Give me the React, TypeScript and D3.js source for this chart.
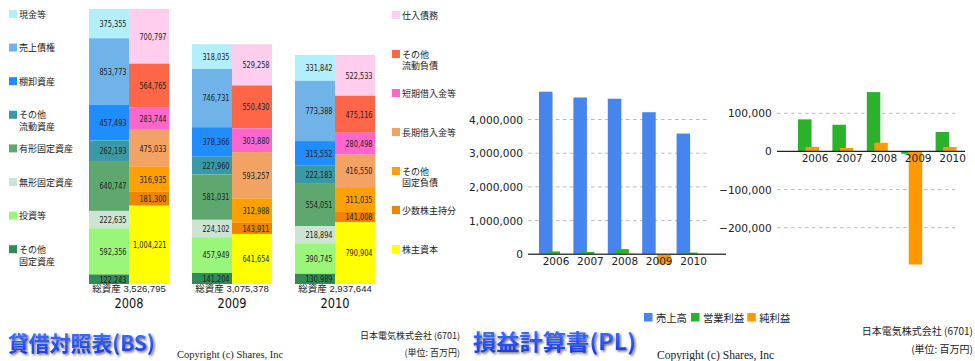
import React from "react";
import * as d3 from "d3";

// ---------- Balance sheet data (values in 百万円) ----------
const bsYears = ["2008", "2009", "2010"];
const totalAssets = [3526795, 3075378, 2937644];

const assetLabels = [["現金等"], ["売上債権"], ["棚卸資産"], ["その他", "流動資産"], ["有形固定資産"], ["無形固定資産"], ["投資等"], ["その他", "固定資産"]];
const assetColors = ["#b3eefb", "#6fb3e9", "#1f8cff", "#3a99a9", "#5ea870", "#cde3d4", "#9af57b", "#2f8c58"];
const assets2008 = [375355, 853773, 457493, 262193, 640747, 222635, 592356, 122243];
const assets2009 = [318035, 746731, 378366, 227960, 581031, 224102, 457949, 141204];
const assets2010 = [331842, 773388, 315552, 222183, 554051, 218894, 390745, 130989];

const liabLabels = [["仕入債務"], ["その他", "流動負債"], ["短期借入金等"], ["長期借入金等"], ["その他", "固定負債"], ["少数株主持分"], ["株主資本"]];
const liabColors = ["#ffcdee", "#ff6647", "#ff66cc", "#f2a262", "#ffa000", "#ee8400", "#ffff00"];
const liab2008 = [700797, 564765, 283744, 475033, 316935, 181300, 1004221];
const liab2009 = [529258, 550430, 303880, 593257, 312988, 143911, 641654];
const liab2010 = [522533, 475116, 280498, 416550, 311035, 141008, 790904];

// ---------- Income statement data ----------
const plYears = ["2006", "2007", "2008", "2009", "2010"];
const sales = [4824970, 4652649, 4617153, 4215603, 3583148];
const opIncome = [84129, 69966, 155566, -6201, 50961];
const netIncome = [11664, 9128, 22681, -296646, 11427];
const plNames = ["売上高", "営業利益", "純利益"];
const plColors = ["#4684ee", "#2bb22b", "#ff9900"];
const leftTicks = [0, 1000000, 2000000, 3000000, 4000000];
const rightTicks = [-200000, -100000, 0, 100000];

const fmt = d3.format(",");
const CJK = "'Noto Sans CJK JP', 'Noto Sans', sans-serif";
const NUM = "'DejaVu Sans', sans-serif";
const SERIF = "'Liberation Serif', 'DejaVu Serif', serif";

// approximate natural width of a DejaVu Sans number string
const numWidth = (s: string, fs: number) =>
  s.split("").reduce((w, ch) => w + (ch === "," ? 0.318 : 0.636), 0) * fs;

export default function App() {
  // BS scales
  const yBS = d3.scaleLinear().domain([0, d3.max(totalAssets) as number]).range([284, 9]);
  const xBS = d3.scaleBand<string>().domain(bsYears).range([89, 398]);
  const colW = 40;
  const assetsByYear = [assets2008, assets2009, assets2010];
  const liabByYear = [liab2008, liab2009, liab2010];
  const valFs = 8.2;

  const stackCol = (values: number[], x: number, colors: string[], key: string, inset: number) => {
    const total = d3.sum(values);
    const ends = Array.from(d3.cumsum(values));
    const segs = values.map((v, i) => {
      const y0 = yBS(total - (ends[i] - v));
      const y1 = yBS(total - ends[i]);
      return { v, y0, y1, c: colors[i] };
    });
    return (
      <g key={key}>
        {segs.map((s, i) => (
          <rect key={"r" + i} x={x} y={s.y0} width={colW} height={s.y1 - s.y0} fill={s.c} />
        ))}
        {segs.map((s, i) => {
          const label = fmt(s.v);
          return (
            <text key={"t" + i} x={x + colW - inset} y={(s.y0 + s.y1) / 2 + 0.3} textAnchor="end" dominantBaseline="central"
              fontFamily={NUM} fontSize={valFs} fill="#222"
              textLength={numWidth(label, valFs) * 0.8} lengthAdjust="spacingAndGlyphs">{label}</text>
          );
        })}
      </g>
    );
  };

  // PL scales
  const yL = d3.scaleLinear().domain([0, 4000000]).range([254.3, 119.5]);
  const xL = d3.scaleBand<string>().domain(plYears).range([539, 711]);
  const yR = d3.scaleLinear().domain([-200000, 100000]).range([227.7, 113.3]);
  const xR = d3.scaleBand<string>().domain(plYears).range([798, 970]);
  const barW = 13.5;
  const step = 7.5;
  const leftSeries = [sales, opIncome, netIncome];
  const rightSeries = [opIncome, netIncome];

  return (
    <svg width={975} height={361} style={{ position: "absolute", left: 0, top: 0, background: "#fff" }}>
      <defs>
        <linearGradient id="tg" x1="0" y1="0" x2="0" y2="1">
          <stop offset="0" stopColor="#4d7dff" />
          <stop offset="1" stopColor="#1234e6" />
        </linearGradient>
        <filter id="sh" x="-10%" y="-30%" width="130%" height="170%">
          <feDropShadow dx="1.5" dy="1.5" stdDeviation="0.8" floodColor="#333" floodOpacity="0.7" />
        </filter>
      </defs>
      <rect x={0} y={0} width={975} height={361} fill="#fff" />

      {/* ---------- BS legend left ---------- */}
      {assetLabels.map((lines, i) => {
        const cy = 14 + i * 33.6;
        return (
          <g key={"al" + i}>
            <rect x={9} y={cy - 4} width={8} height={8} fill={assetColors[i]} />
            {lines.map((l, k) => (
              <text key={k} x={19} y={cy + k * 12} dominantBaseline="central" fontFamily={CJK} fontSize={9} fill="#222">{l}</text>
            ))}
          </g>
        );
      })}

      {/* ---------- BS legend right ---------- */}
      {liabLabels.map((lines, i) => {
        const cy = 15 + i * 39;
        return (
          <g key={"ll" + i}>
            <rect x={392} y={cy - 4} width={8} height={8} fill={liabColors[i]} />
            {lines.map((l, k) => (
              <text key={k} x={402} y={cy + k * 11.5} dominantBaseline="central" fontFamily={CJK} fontSize={9} fill="#222">{l}</text>
            ))}
          </g>
        );
      })}

      {/* ---------- BS bars ---------- */}
      {bsYears.map((yr, j) => {
        const x = xBS(yr) as number;
        return (
          <g key={"bs" + yr}>
            {stackCol(assetsByYear[j], x, assetColors, "a", 2.5)}
            {stackCol(liabByYear[j], x + colW, liabColors, "l", 2.5)}
            <text x={x + colW} y={292.3} textAnchor="middle"
              fontFamily={"'Liberation Sans', 'Noto Sans CJK JP', sans-serif"} fontSize={9.6} fill="#222"
              textLength={73.5} lengthAdjust="spacingAndGlyphs">
              {"総資産 " + fmt(totalAssets[j])}
            </text>
            <text x={x + colW} y={308} textAnchor="middle" fontFamily={NUM} fontSize={14} fill="#111"
              textLength={29} lengthAdjust="spacingAndGlyphs">{yr}</text>
          </g>
        );
      })}

      {/* ---------- BS footer ---------- */}
      <text x={8} y={342} dominantBaseline="central" fontFamily={CJK} fontWeight="bold" fontSize={21}
        fill="url(#tg)" filter="url(#sh)" textLength={147} lengthAdjust="spacingAndGlyphs">貸借対照表(BS)</text>
      <text x={177} y={357.5} fontFamily={SERIF} fontSize={10.5} fill="#222">Copyright (c) Shares, Inc</text>
      <text x={460} y={335} textAnchor="end" dominantBaseline="central" fontFamily={CJK} fontSize={9} fill="#222">日本電気株式会社 (6701)</text>
      <text x={460} y={352} textAnchor="end" dominantBaseline="central" fontFamily={CJK} fontSize={9} fill="#222">(単位: 百万円)</text>

      {/* ---------- PL left chart ---------- */}
      {leftTicks.filter((t) => t !== 0).map((t) => (
        <line key={"gl" + t} x1={528} x2={707} y1={yL(t)} y2={yL(t)} stroke="#bbb" strokeDasharray="3.5 3.5" />
      ))}
      {leftTicks.map((t) => (
        <text key={"tl" + t} x={523} y={yL(t)} textAnchor="end" dominantBaseline="central" fontFamily={NUM} fontSize={10.6} fill="#222">{fmt(t)}</text>
      ))}
      {leftSeries.map((vals, s) => (
        <g key={"ls" + s}>
          {vals.map((v, i) => {
            const y0 = yL(0), y1 = yL(v);
            return (
              <rect key={i} x={(xL(plYears[i]) as number) + s * step} y={Math.min(y0, y1)} width={barW}
                height={Math.abs(y1 - y0)} fill={plColors[s]} />
            );
          })}
        </g>
      ))}
      <line x1={528} x2={726} y1={yL(0)} y2={yL(0)} stroke="#444" strokeWidth={1.6} />
      {plYears.map((yr) => (
        <text key={"xl" + yr} x={(xL(yr) as number) + 17} y={261} textAnchor="middle" dominantBaseline="central" fontFamily={NUM} fontSize={10.5} fill="#222">{yr}</text>
      ))}

      {/* ---------- PL right chart ---------- */}
      {rightTicks.filter((t) => t !== 0).map((t) => (
        <line key={"gr" + t} x1={777} x2={955} y1={yR(t)} y2={yR(t)} stroke="#bbb" strokeDasharray="3.5 3.5" />
      ))}
      {rightTicks.map((t) => (
        <text key={"tr" + t} x={771.7} y={yR(t)} textAnchor="end" dominantBaseline="central" fontFamily={NUM} fontSize={10.6} fill="#222">{fmt(t)}</text>
      ))}
      {rightSeries.map((vals, s) => (
        <g key={"rs" + s}>
          {vals.map((v, i) => {
            const y0 = yR(0), y1 = yR(v);
            return (
              <rect key={i} x={(xR(plYears[i]) as number) + s * step} y={Math.min(y0, y1)} width={barW}
                height={Math.abs(y1 - y0)} fill={plColors[s + 1]} />
            );
          })}
        </g>
      ))}
      <line x1={777} x2={965} y1={yR(0)} y2={yR(0)} stroke="#222" strokeWidth={1.3} />
      {plYears.map((yr) => (
        <text key={"xr" + yr} x={(xR(yr) as number) + 17} y={158.3} textAnchor="middle" dominantBaseline="central" fontFamily={NUM} fontSize={10.5} fill="#222">{yr}</text>
      ))}

      {/* ---------- PL legend ---------- */}
      {plNames.map((n, i) => {
        const lx = [644, 691, 747.3][i];
        return (
          <g key={"pl" + i}>
            <rect x={lx} y={313} width={8.5} height={8.5} fill={plColors[i]} />
            <text x={lx + 12} y={317.3} dominantBaseline="central" fontFamily={CJK} fontSize={10.3} fill="#222">{n}</text>
          </g>
        );
      })}

      {/* ---------- PL footer ---------- */}
      <text x={473} y={340} dominantBaseline="central" fontFamily={CJK} fontWeight="bold" fontSize={22}
        fill="url(#tg)" filter="url(#sh)" textLength={163} lengthAdjust="spacingAndGlyphs">損益計算書(PL)</text>
      <text x={657} y={358.5} fontFamily={SERIF} fontSize={11.6} fill="#222">Copyright (c) Shares, Inc</text>
      <text x={973} y={330} textAnchor="end" dominantBaseline="central" fontFamily={CJK} fontSize={10} fill="#222">日本電気株式会社 (6701)</text>
      <text x={973} y={348.3} textAnchor="end" dominantBaseline="central" fontFamily={CJK} fontSize={10} fill="#222">(単位: 百万円)</text>
    </svg>
  );
}
